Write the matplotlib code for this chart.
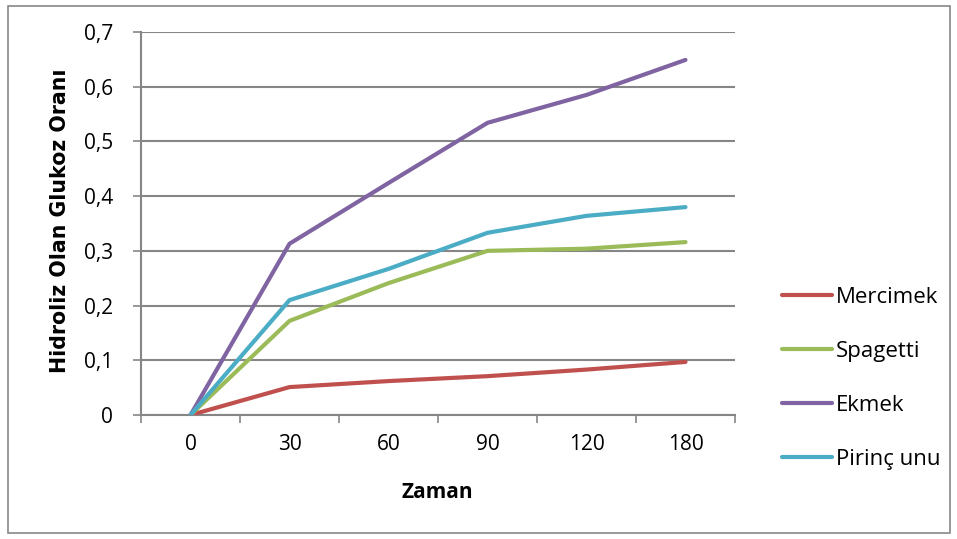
import matplotlib.pyplot as plt
from matplotlib.patches import Rectangle

# Data
zaman = ["0", "30", "60", "90", "120", "180"]
mercimek = [0, 0.051, 0.062, 0.071, 0.083, 0.097]
spagetti = [0, 0.172, 0.241, 0.300, 0.304, 0.316]
ekmek = [0, 0.313, 0.424, 0.534, 0.585, 0.649]
pirinc_unu = [0, 0.210, 0.267, 0.333, 0.364, 0.380]
y_ticks = [0, 0.1, 0.2, 0.3, 0.4, 0.5, 0.6, 0.7]
y_labels = ["0", "0,1", "0,2", "0,3", "0,4", "0,5", "0,6", "0,7"]

series = [
    ("Mercimek", mercimek, "#C0504D"),
    ("Spagetti", spagetti, "#9BBB59"),
    ("Ekmek", ekmek, "#8064A2"),
    ("Pirinç unu", pirinc_unu, "#4BACC6"),
]

plt.rcParams["font.family"] = ["Open Sans", "DejaVu Sans"]
grid_col = "#868686"

fig = plt.figure(figsize=(9.57, 5.39), dpi=100)
ax = fig.add_axes([141 / 957, 1 - 415 / 539, (735 - 141) / 957, (415 - 32) / 539])

x = list(range(len(zaman)))
for name, vals, col in series:
    ax.plot(x, vals, color=col, linewidth=3, label=name, solid_capstyle="round", zorder=3)

ax.set_xlim(-0.5, len(zaman) - 0.5)
ax.set_ylim(0, 0.7)
ax.set_yticks(y_ticks)
ax.set_yticklabels(y_labels, fontsize=15)
ax.set_xticks(x)
ax.set_xticklabels(zaman, fontsize=15)
ax.set_xticks([i - 0.5 for i in range(len(zaman) + 1)], minor=True)
ax.tick_params(axis="x", which="major", length=0, pad=14)
ax.tick_params(axis="x", which="minor", length=6, color=grid_col, width=1.2)
ax.tick_params(axis="y", length=6, color=grid_col, width=1.2, pad=14)

ax.grid(axis="y", color=grid_col, linewidth=1.5)
ax.set_axisbelow(True)
for side in ["top", "right"]:
    ax.spines[side].set_visible(False)
for side in ["left", "bottom"]:
    ax.spines[side].set_color(grid_col)
    ax.spines[side].set_linewidth(1.5)

fig.text(437 / 957, 1 - 492 / 539, "Zaman", fontsize=15, fontweight="bold",
         ha="center", va="center")
fig.text(60 / 957, 1 - 221 / 539, "Hidroliz Olan Glukoz Oranı", fontsize=14.8,
         fontweight="bold", family="DejaVu Sans", rotation=90, ha="center", va="center")

fig.legend(loc="upper left", bbox_to_anchor=(782 / 957, 1 - 287 / 539), frameon=False,
           fontsize=16, handlelength=2.25, handletextpad=0.18, labelspacing=1.48,
           borderaxespad=0, borderpad=0)

fig.patches.append(Rectangle((8 / 957, 6 / 539), 942 / 957, 527 / 539, transform=fig.transFigure,
                             fill=False, edgecolor="#888888", linewidth=1.2))

fig.savefig("out.png", dpi=100)
